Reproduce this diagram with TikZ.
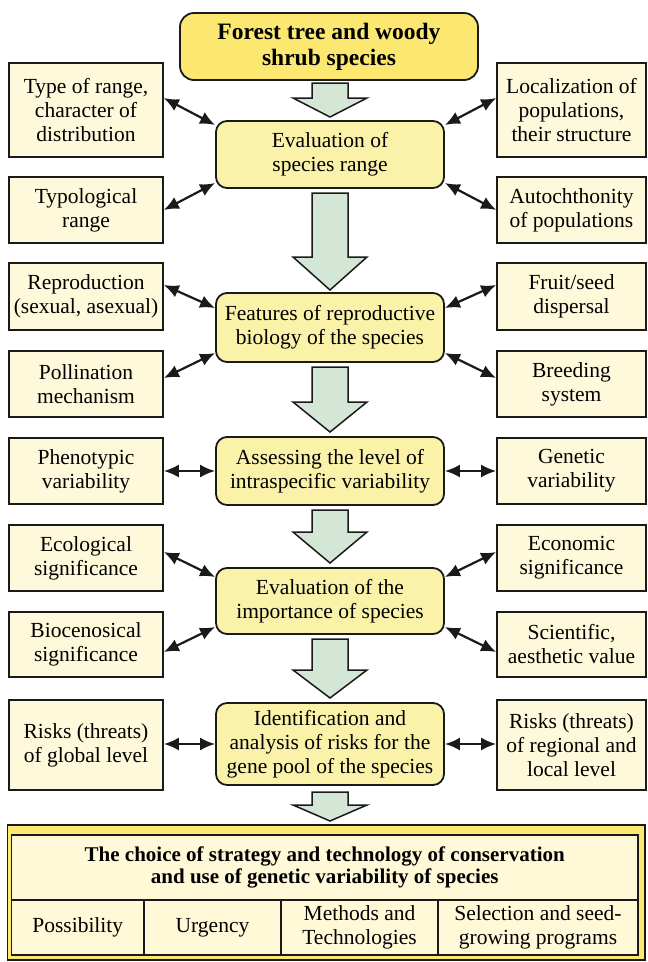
\documentclass[tikz,border=0pt]{standalone}
\usepackage{fontspec}
\setmainfont{Liberation Serif}
\usetikzlibrary{arrows.meta,calc}
\definecolor{topyellow}{HTML}{FCE870}
\definecolor{mainyellow}{HTML}{FBF2AA}
\definecolor{sidefill}{HTML}{FEF9DA}
\definecolor{arrowgreen}{HTML}{D4E6D6}
\definecolor{outeryellow}{HTML}{FAEA72}
\definecolor{innerfill}{HTML}{FFF9D8}
\definecolor{lineclr}{HTML}{1A1A1A}
\newcommand\greenarrow[3]{\draw[bigarrow] (312,#1) -- (348,#1) -- (348,#2) -- (367,#2) -- (330,#3) -- (293,#2) -- (312,#2) -- cycle;}
\begin{document}
\begin{tikzpicture}[x=1pt,y=-1pt,
  txt/.style={font=\fontsize{21.5}{24}\selectfont},
  mainbox/.style={txt, draw=lineclr, line width=1.8pt, fill=mainyellow, rounded corners=11pt, align=center, inner sep=0pt},
  topbox/.style={mainbox, fill=topyellow, rounded corners=14pt, font=\fontsize{23.5}{26}\selectfont\bfseries},
  sidebox/.style={txt, draw=lineclr, line width=1.6pt, fill=sidefill, align=center, inner sep=0pt},
  cellbox/.style={txt, draw=lineclr, line width=1.6pt, align=center, inner sep=0pt},
  biarrow/.style={{Latex[length=15pt,width=13pt]}-{Latex[length=15pt,width=13pt]}, line width=2.2pt, draw=lineclr},
  bigarrow/.style={fill=arrowgreen, draw=lineclr, line width=1.5pt, line join=miter}]
\useasboundingbox (0,0) rectangle (648,962);

% main column
\node[topbox, minimum width=298pt, minimum height=67pt] (top) at (329,46.5) {Forest tree and woody\\shrub species};
\node[mainbox, minimum width=228pt, minimum height=67pt] (m1) at (330,154.5) {Evaluation of\\species range};
\node[mainbox, minimum width=228pt, minimum height=69pt] (m2) at (330,327.5) {Features of reproductive\\biology of the species};
\node[mainbox, minimum width=228pt, minimum height=68pt] (m3) at (330,471) {Assessing the level of\\intraspecific variability};
\node[mainbox, minimum width=228pt, minimum height=66pt] (m4) at (330,601) {Evaluation of the\\importance of species};
\node[mainbox, minimum width=228pt, minimum height=82pt] (m5) at (330,744) {Identification and\\analysis of risks for the\\gene pool of the species};

% left column
\node[sidebox, minimum width=154pt, minimum height=94pt] (l1) at (86,110) {Type of range,\\character of\\distribution};
\node[sidebox, minimum width=154pt, minimum height=66pt] (l2) at (86,210) {Typological\\range};
\node[sidebox, minimum width=154pt, minimum height=67pt] (l3) at (86,296.5) {Reproduction\\(sexual, asexual)};
\node[sidebox, minimum width=154pt, minimum height=66pt] (l4) at (86,384) {Pollination\\mechanism};
\node[sidebox, minimum width=154pt, minimum height=66pt] (l5) at (86,471) {Phenotypic\\variability};
\node[sidebox, minimum width=154pt, minimum height=66pt] (l6) at (86,558) {Ecological\\significance};
\node[sidebox, minimum width=154pt, minimum height=65pt] (l7) at (86,644.5) {Biocenosical\\significance};
\node[sidebox, minimum width=154pt, minimum height=90pt] (l8) at (86,745) {Risks (threats)\\of global level};

% right column
\node[sidebox, minimum width=149pt, minimum height=94pt] (r1) at (571.5,110) {Localization of\\populations,\\their structure};
\node[sidebox, minimum width=149pt, minimum height=66pt] (r2) at (571.5,210) {Autochthonity\\of populations};
\node[sidebox, minimum width=149pt, minimum height=67pt] (r3) at (571.5,296.5) {Fruit/seed\\dispersal};
\node[sidebox, minimum width=149pt, minimum height=66pt] (r4) at (571.5,384) {Breeding\\system};
\node[sidebox, minimum width=149pt, minimum height=66pt] (r5) at (571.5,471) {Genetic\\variability};
\node[sidebox, minimum width=149pt, minimum height=66pt] (r6) at (571.5,558) {Economic\\significance};
\node[sidebox, minimum width=149pt, minimum height=65pt] (r7) at (571.5,644.5) {Scientific,\\aesthetic value};
\node[sidebox, minimum width=149pt, minimum height=90pt] (r8) at (571.5,745) {Risks (threats)\\of regional and\\local level};

% big green arrows
\greenarrow{83}{98}{117}
\greenarrow{193}{257}{290}
\greenarrow{367}{402}{432}
\greenarrow{510}{532}{563}
\greenarrow{639}{670}{698}
\greenarrow{792}{805}{821}

% double arrows
\draw[biarrow] ([yshift=12pt]l1.east) -- ([yshift=29.5pt]m1.west);
\draw[biarrow] ([yshift=-28.5pt]m1.west) -- (l2.east);
\draw[biarrow] ([yshift=29.5pt]m1.east) -- ([yshift=12pt]r1.west);
\draw[biarrow] ([yshift=-28.5pt]m1.east) -- (r2.west);

\draw[biarrow] ([yshift=11.5pt]l3.east) -- ([yshift=19.5pt]m2.west);
\draw[biarrow] ([yshift=-25.5pt]m2.west) -- ([yshift=6pt]l4.east);
\draw[biarrow] ([yshift=19.5pt]m2.east) -- ([yshift=11.5pt]r3.west);
\draw[biarrow] ([yshift=-25.5pt]m2.east) -- ([yshift=6pt]r4.west);

\draw[biarrow] (l5.east) -- (m3.west);
\draw[biarrow] (m3.east) -- (r5.west);

\draw[biarrow] ([yshift=6pt]l6.east) -- ([yshift=24pt]m4.west);
\draw[biarrow] ([yshift=-26pt]m4.west) -- ([yshift=-7.5pt]l7.east);
\draw[biarrow] ([yshift=24pt]m4.east) -- ([yshift=6pt]r6.west);
\draw[biarrow] ([yshift=-26pt]m4.east) -- ([yshift=-7.5pt]r7.west);

\draw[biarrow] (m5.west -| l8.east) -- (m5.west);
\draw[biarrow] (m5.east) -- (m5.east -| r8.west);

% bottom block
\node[draw=lineclr, line width=1.8pt, fill=outeryellow, minimum width=637.5pt, minimum height=135pt, inner sep=0pt] (outer) at (326.25,892.5) {};
\node[cellbox, fill=innerfill, minimum width=626.5pt, minimum height=120pt] (inner) at (324.75,895) {};
\node[cellbox, minimum width=626.5pt, minimum height=65pt, font=\fontsize{21}{22.5}\selectfont\bfseries] (head) at (324.75,867.5) {The choice of strategy and technology of conservation\\and use of genetic variability of species};
\node[cellbox, minimum width=132.5pt, minimum height=55pt] (c1) at (77.75,927.5) {Possibility};
\node[cellbox, minimum width=137pt, minimum height=55pt] (c2) at (212.5,927.5) {Urgency};
\node[cellbox, minimum width=157pt, minimum height=55pt] (c3) at (359.5,927.5) {Methods and\\Technologies};
\node[cellbox, minimum width=200pt, minimum height=55pt] (c4) at (538,927.5) {Selection and seed-\\growing programs};
\end{tikzpicture}
\end{document}
